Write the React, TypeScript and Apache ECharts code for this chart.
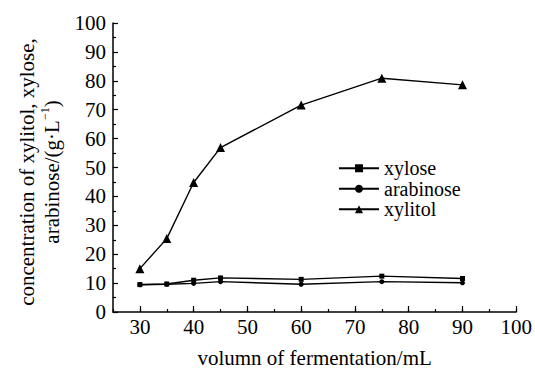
import React, { useEffect, useRef } from "react";
import * as echarts from "echarts";

const volumes = [30, 35, 40, 45, 60, 75, 90];
const xylose = [9.5, 9.7, 11.0, 11.8, 11.3, 12.4, 11.6];
const arabinose = [9.4, 9.6, 9.9, 10.5, 9.6, 10.5, 10.1];
const xylitol = [15.0, 25.4, 44.8, 56.9, 71.6, 80.9, 78.6];
const xMajorTicks = [30, 40, 50, 60, 70, 80, 90, 100];

const FONT = "Liberation Serif";

export default function App() {
  const ref = useRef<HTMLDivElement>(null);
  useEffect(() => {
    if (!ref.current) return;
    const chart = echarts.init(ref.current, null, { renderer: "svg" });
    const pair = (ys: number[]) => volumes.map((v, i) => [v, ys[i]]);
    const lineStyle = { color: "#000", width: 1.4 };
    chart.setOption({
      animation: false,
      backgroundColor: "#fff",
      textStyle: { fontFamily: FONT },
      grid: { left: 113, right: 17, top: 23, bottom: 50 },
      legend: {
        orient: "vertical",
        left: 333,
        top: 153,
        itemWidth: 40,
        itemHeight: 10,
        itemGap: 0,
        textStyle: { fontFamily: FONT, fontSize: 20, color: "#000", lineHeight: 20.5 },
        data: ["xylose", "arabinose", "xylitol"],
      },
      xAxis: [
        {
          type: "value",
          min: 25,
          max: 100,
          interval: 5,
          name: "volumn of fermentation/mL",
          nameLocation: "middle",
          nameGap: 35,
          nameTextStyle: { fontFamily: FONT, fontSize: 21, color: "#000" },
          axisLine: { show: true, lineStyle: { color: "#000", width: 1.5 } },
          axisTick: { show: true, inside: true, length: 3, lineStyle: { color: "#000", width: 1.2 } },
          axisLabel: {
            fontFamily: FONT,
            fontSize: 21,
            color: "#000",
            margin: 4,
            formatter: (v: number) => (v % 10 === 0 && v >= 30 ? String(v) : ""),
          },
          splitLine: { show: false },
        },
        {
          type: "value",
          position: "bottom",
          min: 25,
          max: 100,
          interval: 5,
          axisLine: { show: false },
          axisTick: {
            show: true,
            inside: true,
            length: 6,
            customValues: xMajorTicks,
            lineStyle: { color: "#000", width: 1.2 },
          },
          axisLabel: { show: false },
          splitLine: { show: false },
        },
      ],
      yAxis: {
        type: "value",
        min: 0,
        max: 100,
        interval: 10,
        axisLine: { show: true, lineStyle: { color: "#000", width: 1.5 } },
        axisTick: { show: true, inside: true, length: 5, lineStyle: { color: "#000", width: 1.2 } },
        minorTick: { show: true, splitNumber: 2, length: 3, lineStyle: { color: "#000", width: 1.2 } },
        axisLabel: { fontFamily: FONT, fontSize: 21, color: "#000", margin: 7 },
        splitLine: { show: false },
      },
      graphic: [
        {
          type: "text",
          x: 39,
          y: 172,
          rotation: Math.PI / 2,
          style: {
            text: "concentration of xylitol, xylose,\narabinose/(g·L{sup|−1})",
            fontFamily: FONT,
            fontSize: 21,
            lineHeight: 25,
            fill: "#000",
            align: "center",
            verticalAlign: "middle",
            rich: {
              sup: { fontFamily: FONT, fontSize: 12, fill: "#000", verticalAlign: "top", lineHeight: 25, padding: [0, 0, 10, 0] },
            },
          },
        },
      ],
      series: [
        {
          name: "xylose",
          type: "line",
          data: pair(xylose),
          symbol: "rect",
          symbolSize: 5,
          itemStyle: { color: "#000" },
          lineStyle,
        },
        {
          name: "arabinose",
          type: "line",
          data: pair(arabinose),
          symbol: "circle",
          symbolSize: 5,
          itemStyle: { color: "#000" },
          lineStyle,
        },
        {
          name: "xylitol",
          type: "line",
          data: pair(xylitol),
          symbol: "triangle",
          symbolSize: 9,
          itemStyle: { color: "#000" },
          lineStyle,
        },
      ],
    });
    return () => chart.dispose();
  }, []);
  return <div ref={ref} style={{ width: 535, height: 373, position: "absolute", left: 0, top: 0 }} />;
}
